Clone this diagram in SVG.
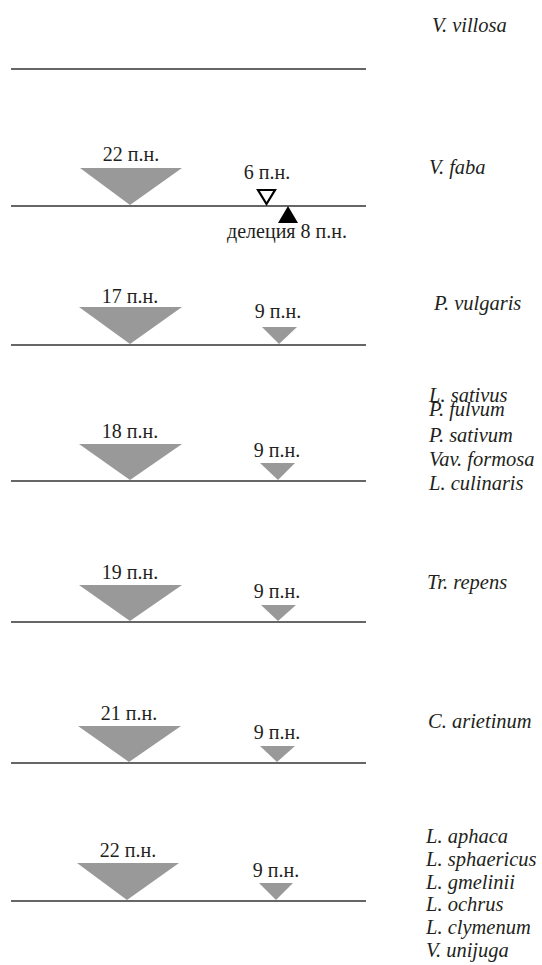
<svg xmlns="http://www.w3.org/2000/svg" width="542" height="965" viewBox="0 0 542 965">
<style>
.ln{stroke:#333;stroke-width:1.6;fill:none}
.tri{fill:#999;stroke:none}
.lbl{font-family:"Liberation Serif","Times New Roman",serif;font-size:20px;fill:#231f20;text-anchor:middle}
.sp{font-family:"Liberation Serif","Times New Roman",serif;font-size:20.5px;font-style:italic;fill:#231f20}
</style>
<rect width="542" height="965" fill="#fff"/>
<g id="connectors">
<line class="ln" x1="11" y1="69" x2="366" y2="69"/>
<line class="ln" x1="11" y1="206" x2="366" y2="206"/>
<line class="ln" x1="11" y1="345" x2="366" y2="345"/>
<line class="ln" x1="11" y1="481" x2="366" y2="481"/>
<line class="ln" x1="11" y1="622" x2="366" y2="622"/>
<line class="ln" x1="11" y1="763" x2="366" y2="763"/>
<line class="ln" x1="11" y1="901" x2="366" y2="901"/>
</g>
<g id="row-villosa">
<text class="sp" x="432" y="32">V. villosa</text>
</g>
<g id="row-faba">
<polygon class="tri" points="80,168 182,168 130,205"/>
<text class="lbl" x="131" y="161">22 п.н.</text>
<polygon points="258,190 275,190 266.5,204" fill="#fff" stroke="#000" stroke-width="2.2"/>
<text class="lbl" x="267" y="179">6 п.н.</text>
<polygon points="278,223 298,223 288,206" fill="#000"/>
<text class="lbl" x="287" y="238">делеция 8 п.н.</text>
<text class="sp" x="429" y="174">V. faba</text>
</g>
<g id="row-vulgaris">
<polygon class="tri" points="79,307 182,307 130,344"/>
<text class="lbl" x="130" y="303">17 п.н.</text>
<polygon class="tri" points="262,327 297,327 279,344"/>
<text class="lbl" x="278" y="318">9 п.н.</text>
<text class="sp" x="434" y="310">P. vulgaris</text>
</g>
<g id="row-sativus">
<polygon class="tri" points="79,444 182,444 130,480"/>
<text class="lbl" x="130" y="438">18 п.н.</text>
<polygon class="tri" points="260,463 295,463 278,480"/>
<text class="lbl" x="277" y="457">9 п.н.</text>
<text class="sp" x="429" y="402">L. sativus</text>
<text class="sp" x="429" y="416">P. fulvum</text>
<text class="sp" x="429" y="442">P. sativum</text>
<text class="sp" x="429" y="466">Vav. formosa</text>
<text class="sp" x="429" y="490">L. culinaris</text>
</g>
<g id="row-repens">
<polygon class="tri" points="79,585 182,585 130,621"/>
<text class="lbl" x="130" y="579">19 п.н.</text>
<polygon class="tri" points="261,605 296,605 278,621"/>
<text class="lbl" x="277" y="598">9 п.н.</text>
<text class="sp" x="427" y="589">Tr. repens</text>
</g>
<g id="row-arietinum">
<polygon class="tri" points="78,726 181,726 129,762"/>
<text class="lbl" x="129" y="720">21 п.н.</text>
<polygon class="tri" points="260,746 295,746 277,762"/>
<text class="lbl" x="277" y="739">9 п.н.</text>
<text class="sp" x="428" y="728">C. arietinum</text>
</g>
<g id="row-aphaca">
<polygon class="tri" points="77,863 179,863 127,900"/>
<text class="lbl" x="128" y="857">22 п.н.</text>
<polygon class="tri" points="259,883 293,883 276,900"/>
<text class="lbl" x="276" y="877">9 п.н.</text>
<text class="sp" x="426" y="843">L. aphaca</text>
<text class="sp" x="426" y="866">L. sphaericus</text>
<text class="sp" x="426" y="889">L. gmelinii</text>
<text class="sp" x="426" y="911">L. ochrus</text>
<text class="sp" x="426" y="934">L. clymenum</text>
<text class="sp" x="426" y="957">V. unijuga</text>
</g>
</svg>
